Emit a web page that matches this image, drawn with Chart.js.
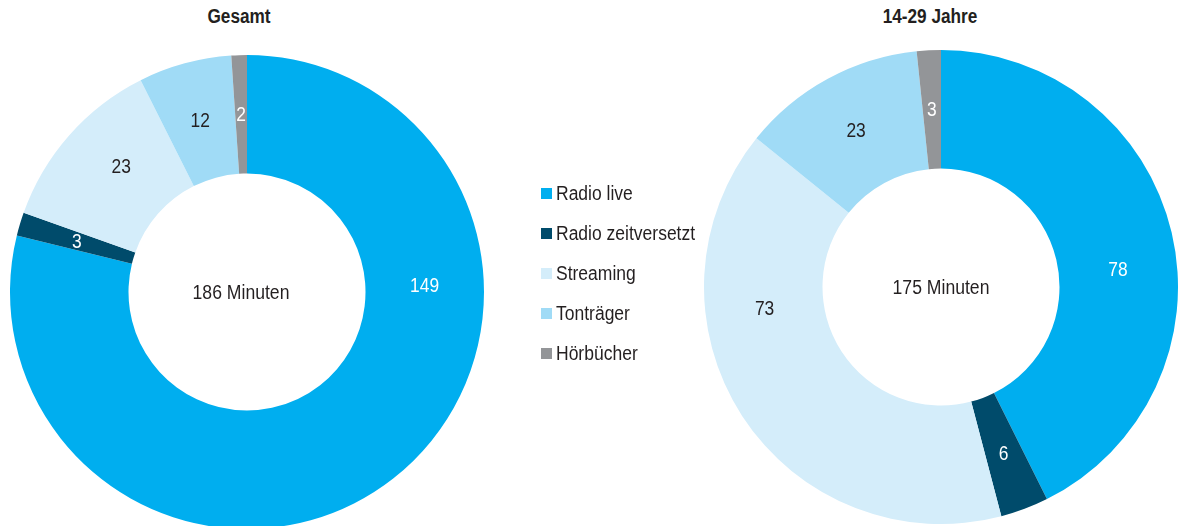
<!DOCTYPE html>
<html><head><meta charset="utf-8">
<script src="https://cdn.jsdelivr.net/npm/chart.js@4/dist/chart.umd.min.js"></script>
<style>
html,body{margin:0;padding:0;background:#fff;width:1184px;height:526px;overflow:hidden;position:relative;font-family:"Liberation Sans",Arial,sans-serif;color:#231F20}
.title{position:absolute;top:5px;font-weight:bold;font-size:20px;text-align:center;width:200px;transform:scaleX(0.86);transform-origin:center}
.wrap{position:absolute;width:474px;height:474px}
#legend{position:absolute;left:541px;top:181px}
.li{height:40px;display:flex;align-items:flex-start;font-size:20px;line-height:24px;white-space:nowrap}
.sw{width:11px;height:11px;margin-right:4px;margin-top:7px;flex:none}
.lt{display:inline-block;transform:scaleX(0.875);transform-origin:left center}
</style></head><body>
<div class="title" style="left:139px">Gesamt</div>
<div class="title" style="left:830px">14-29 Jahre</div>
<div class="wrap" style="left:10px;top:55px"><canvas id="c1"></canvas></div>
<div class="wrap" style="left:704px;top:50px"><canvas id="c2"></canvas></div>
<div id="legend"></div>
<script>
const categories = ["Radio live","Radio zeitversetzt","Streaming","Tonträger","Hörbücher"];
const gesamtValues = [149,3,23,12,2];
const jungValues = [78,6,73,23,3];
const gesamtTotal = "186 Minuten";
const jungTotal = "175 Minuten";
const colors = ["#00AEEF","#004B6B","#D4EDFA","#A0DBF6","#939598"];
const labelColors = ["#FFFFFF","#FFFFFF","#231F20","#231F20","#FFFFFF"];
// where the value label sits along each slice (0 = slice start, 1 = slice end)
const gesamtLabelPos = [0.31,0.5,0.58,0.5,0.5];
const jungLabelPos = [0.55,0.5,0.68,0.5,0.5];
const FONT = "'Liberation Sans',Arial,sans-serif";

const lg = document.getElementById('legend');
categories.forEach((c,i)=>{
  const d=document.createElement('div');d.className='li';
  d.innerHTML='<span class="sw" style="background:'+colors[i]+'"></span><span class="lt">'+c+'</span>';
  lg.appendChild(d);
});

function drawText(ctx,t,x,y,sx){
  ctx.save();ctx.translate(x,y);ctx.scale(sx,1);ctx.fillText(t,0,0);ctx.restore();
}

const valueLabels = {
  id:'valueLabels',
  afterDatasetsDraw(chart){
    const ctx=chart.ctx;
    const meta=chart.getDatasetMeta(0);
    const data=chart.data.datasets[0].data;
    const opt=chart.options.plugins.centerText;
    ctx.save();
    ctx.font="20px "+FONT;
    ctx.textAlign='center';ctx.textBaseline='middle';
    meta.data.forEach((arc,i)=>{
      const p=arc.getProps(['x','y','startAngle','endAngle','innerRadius','outerRadius']);
      const f=opt.pos[i];
      const ang=p.startAngle+(p.endAngle-p.startAngle)*f;
      const r=(p.innerRadius+p.outerRadius)/2;
      ctx.fillStyle=labelColors[i];
      drawText(ctx,String(data[i]),p.x+Math.cos(ang)*r,p.y+Math.sin(ang)*r+1,0.87);
    });
    const a=meta.data[0];
    ctx.fillStyle='#231F20';
    drawText(ctx,opt.text,a.x+opt.dx,a.y+1,0.88);
    ctx.restore();
  }
};

function make(id,values,center,dx,pos){
  new Chart(document.getElementById(id),{
    type:'doughnut',
    data:{labels:categories,datasets:[{data:values,backgroundColor:colors,borderWidth:0,hoverOffset:0}]},
    options:{
      responsive:true,maintainAspectRatio:true,aspectRatio:1,animation:false,
      cutout:'50%',
      layout:{padding:0},
      plugins:{legend:{display:false},tooltip:{enabled:false},centerText:{text:center,dx:dx,pos:pos}}
    },
    plugins:[valueLabels]
  });
}
make('c1',gesamtValues,gesamtTotal,-6,gesamtLabelPos);
make('c2',jungValues,jungTotal,0,jungLabelPos);
</script>
</body></html>
